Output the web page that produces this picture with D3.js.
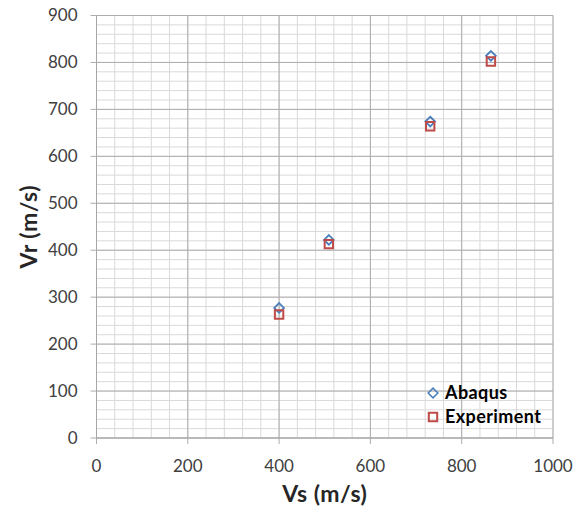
<!DOCTYPE html>
<html>
<head>
<meta charset="utf-8">
<script src="https://cdn.jsdelivr.net/npm/d3@7"></script>
<style>
body { margin: 0; background: #fff; }
svg text { font-family: Lato, "Open Sans", sans-serif; }
</style>
</head>
<body>
<div id="run"></div>
<script>
var vs = [400, 509, 731, 864];
var abaqus = [277, 422, 674, 814];
var experiment = [263, 413, 664, 802];
var xTicks = [0, 200, 400, 600, 800, 1000];
var yTicks = [0, 100, 200, 300, 400, 500, 600, 700, 800, 900];

var width = 587, height = 516;
var plotL = 96.5, plotR = 553, plotT = 15.5, plotB = 438;

var x = d3.scaleLinear().domain([0, 1000]).range([plotL, plotR]);
var y = d3.scaleLinear().domain([0, 900]).range([plotB, plotT]);

var svg = d3.select("#run").append("svg")
    .attr("width", width)
    .attr("height", height);

// minor grid
svg.append("g").selectAll("line")
    .data(d3.range(0, 1001, 40))
    .enter().append("line")
    .attr("x1", function(d) { return x(d); })
    .attr("x2", function(d) { return x(d); })
    .attr("y1", plotT).attr("y2", plotB)
    .style("stroke", "#d9d9d9").style("stroke-width", 1);

svg.append("g").selectAll("line")
    .data(d3.range(0, 901, 20))
    .enter().append("line")
    .attr("y1", function(d) { return y(d); })
    .attr("y2", function(d) { return y(d); })
    .attr("x1", plotL).attr("x2", plotR)
    .style("stroke", "#d9d9d9").style("stroke-width", 1);

// major grid
svg.append("g").selectAll("line")
    .data(xTicks)
    .enter().append("line")
    .attr("x1", function(d) { return x(d); })
    .attr("x2", function(d) { return x(d); })
    .attr("y1", plotT).attr("y2", plotB + 6)
    .style("stroke", "#adadad").style("stroke-width", 1);

svg.append("g").selectAll("line")
    .data(yTicks)
    .enter().append("line")
    .attr("y1", function(d) { return y(d); })
    .attr("y2", function(d) { return y(d); })
    .attr("x1", plotL - 6).attr("x2", plotR)
    .style("stroke", "#adadad").style("stroke-width", 1);

// axis lines
svg.append("line").attr("x1", plotL).attr("x2", plotL).attr("y1", plotT).attr("y2", plotB)
    .style("stroke", "#a6a6a6");
svg.append("line").attr("x1", plotL).attr("x2", plotR).attr("y1", plotB).attr("y2", plotB)
    .style("stroke", "#a6a6a6");

// tick labels
svg.append("g").selectAll("text")
    .data(xTicks)
    .enter().append("text")
    .attr("x", function(d) { return x(d); })
    .attr("y", plotB + 34)
    .attr("text-anchor", "middle")
    .style("font-size", "17px").style("fill", "#404040")
    .text(function(d) { return d; });

svg.append("g").selectAll("text")
    .data(yTicks)
    .enter().append("text")
    .attr("x", plotL - 19)
    .attr("y", function(d) { return y(d); })
    .attr("dy", "0.35em")
    .attr("text-anchor", "end")
    .style("font-size", "17px").style("fill", "#404040")
    .text(function(d) { return d; });

// axis titles
svg.append("text")
    .attr("x", (plotL + plotR) / 2)
    .attr("y", 502)
    .attr("text-anchor", "middle")
    .style("font-size", "23px").style("font-weight", "bold").style("fill", "#262626")
    .style("letter-spacing", "0.5px")
    .text("Vs (m/s)");

svg.append("text")
    .attr("transform", "translate(37," + ((plotT + plotB) / 2) + ") rotate(-90)")
    .attr("text-anchor", "middle")
    .style("font-size", "23px").style("font-weight", "bold").style("fill", "#262626")
    .style("letter-spacing", "0.5px")
    .text("Vr (m/s)");

// series
var diamond = d3.symbol().type(d3.symbolDiamond2).size(60);
var square = d3.symbol().type(d3.symbolSquare2).size(90);

svg.append("g").selectAll("path")
    .data(vs)
    .enter().append("path")
    .attr("d", diamond)
    .attr("transform", function(d, i) { return "translate(" + x(d) + "," + y(abaqus[i]) + ")"; })
    .style("fill", "none").style("stroke", "#4a7ebb").style("stroke-width", 1.8);

svg.append("g").selectAll("path")
    .data(vs)
    .enter().append("path")
    .attr("d", square)
    .attr("transform", function(d, i) { return "translate(" + x(d) + "," + y(experiment[i]) + ")"; })
    .style("fill", "none").style("stroke", "#be4b48").style("stroke-width", 2);

// legend
var legend = [
    {name: "Abaqus", sym: diamond, color: "#4a7ebb", sw: 1.5},
    {name: "Experiment", sym: square, color: "#be4b48", sw: 2}
];
var lg = svg.append("g").selectAll("g")
    .data(legend)
    .enter().append("g")
    .attr("transform", function(d, i) { return "translate(433," + (393 + i * 24) + ")"; });
lg.append("path")
    .attr("d", function(d) { return d.sym(); })
    .style("fill", "none")
    .style("stroke", function(d) { return d.color; })
    .style("stroke-width", function(d) { return d.sw; });
lg.append("text")
    .attr("x", 12)
    .attr("dy", "0.35em")
    .style("font-size", "18px").style("font-weight", "bold").style("fill", "#000")
    .style("letter-spacing", "0.4px")
    .text(function(d) { return d.name; });
</script>
</body>
</html>
